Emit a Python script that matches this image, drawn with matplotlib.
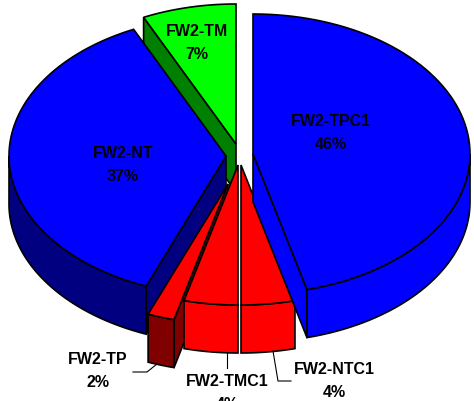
import numpy as np
import matplotlib
matplotlib.use('Agg')
import matplotlib.pyplot as plt

plt.rcParams['font.family'] = ['Liberation Sans', 'DejaVu Sans']

# Datos, in drawing order around the pie (clockwise from 12 o'clock)
names = ['FW2-TPC1', 'FW2-NTC1', 'FW2-TMC1', 'FW2-TP', 'FW2-NT', 'FW2-TM']
shares = [46, 4, 4, 2, 37, 7]

# Estilo
top_colors = ['#0000ff', '#ff0000', '#ff0000', '#ff0000', '#0000ff', '#00ff00']
side_colors = ['#0000ff', '#ff0000', '#ff0000', '#800000', '#000080', '#008000']
apex = [(253, 155), (241, 166), (238, 166), (228, 185), (226, 157), (236, 145)]
label_pos = [(331, 122), (334, 370), (227, 382), (98, 360), (123, 154), (197, 32)]
RX, RY, DEPTH = 217, 140, 48


def rim(c, a0, a1):
    t = np.radians(np.linspace(a0, a1, 80))
    return np.column_stack((c[0] + RX * np.sin(t), c[1] - RY * np.cos(t)))


def patch(ax, pts, color, z):
    ax.fill(pts[:, 0], pts[:, 1], facecolor=color, edgecolor='black',
            linewidth=1.2, joinstyle='miter', zorder=z)


fig = plt.figure(figsize=(4.74, 4.02), dpi=100)
ax = fig.add_axes([0, 0, 1, 1])
ax.set_xlim(0, 474)
ax.set_ylim(402, 0)
ax.axis('off')

bounds = np.concatenate(([0], np.cumsum(shares))) * 360 / sum(shares)
down = np.array([0, DEPTH])
# back to front
order = [5, 4, 3, 2, 1, 0]
for z, i in enumerate(order):
    a0, a1 = bounds[i], bounds[i + 1]
    c = np.array(apex[i], dtype=float)
    z0 = z * 10

    # radial walls
    for a, visible in ((a0, np.sin(np.radians(a0)) < -1e-6),
                       (a1, np.sin(np.radians(a1)) > 1e-6)):
        if visible:
            p = rim(c, a, a)[0]
            patch(ax, np.array([c, p, p + down, c + down]), side_colors[i], z0)

    # outer wall, front half only
    lo, hi = max(a0, 90), min(a1, 270)
    if lo < hi:
        arc = rim(c, lo, hi)
        patch(ax, np.vstack((arc, arc[::-1] + down)), side_colors[i], z0 + 1)

    # top
    patch(ax, np.vstack(([c], rim(c, a0, a1))), top_colors[i], z0 + 2)

    x, y = label_pos[i]
    ax.text(x, y, names[i], ha='center', va='center', fontsize=11.5,
            fontweight='bold', color='black', zorder=100)
    ax.text(x, y + 22.5, f'{shares[i]}%', ha='center', va='center', fontsize=11.5,
            fontweight='bold', color='black', zorder=100)

# leader lines
ax.plot([133, 147, 157], [373, 373, 365], color='black', lw=0.8, zorder=90)
ax.plot([227, 227], [354, 369], color='black', lw=0.8, zorder=90)
ax.plot([273, 278, 291], [352, 382, 382], color='black', lw=0.8, zorder=90)

fig.savefig('out.png', dpi=100, facecolor='white')
